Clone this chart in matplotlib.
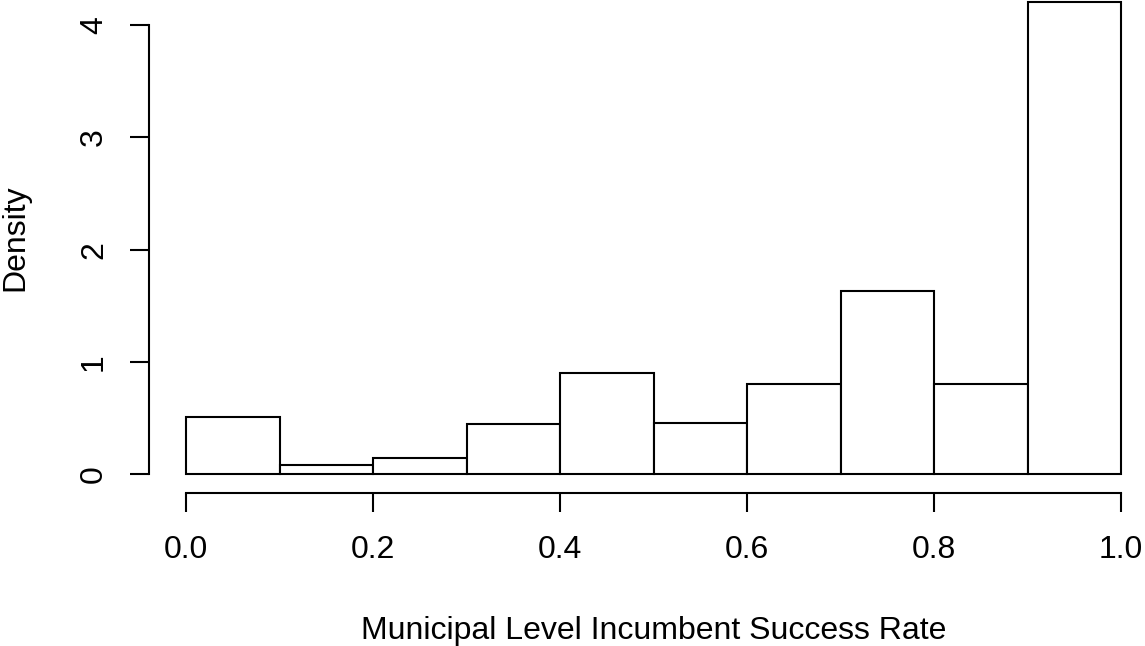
import matplotlib
matplotlib.use("Agg")
import matplotlib.pyplot as plt
import numpy as np

plt.rcParams['font.family'] = ['Liberation Sans', 'DejaVu Sans']

breaks = [0.0, 0.1, 0.2, 0.3, 0.4, 0.5, 0.6, 0.7, 0.8, 0.9, 1.0]
density = [0.51, 0.08, 0.14, 0.45, 0.90, 0.455, 0.805, 1.635, 0.80, 4.21]
x_ticks = [0.0, 0.2, 0.4, 0.6, 0.8, 1.0]
x_tick_labels = ["0.0", "0.2", "0.4", "0.6", "0.8", "1.0"]
y_ticks = [0, 1, 2, 3, 4]
x_label = "Municipal Level Incumbent Success Rate"
y_label = "Density"

W, H = 1145, 646
DPI = 100
FS = 23
fig = plt.figure(figsize=(W / DPI, H / DPI), dpi=DPI)
fig.patch.set_facecolor("white")

# plot region in pixels (R-like, 4% extension)
left_px, right_px = 148.6, 1158.4
bottom_px, top_px = 493.0, -17.2
ax = fig.add_axes([left_px / W, (H - bottom_px) / H,
                   (right_px - left_px) / W, (bottom_px - top_px) / H])
ax.set_facecolor("none")

b = np.array(breaks)
ax.bar(b[:-1], density, width=np.diff(b), align="edge",
       facecolor="white", edgecolor="black", linewidth=1.5, clip_on=False)

ax.set_xlim(-0.04, 1.04)
ymax = max(density)
ax.set_ylim(-0.04 * ymax, 1.04 * ymax)

for s in ["top", "right"]:
    ax.spines[s].set_visible(False)
ax.spines["bottom"].set_bounds(0, 1)
ax.spines["left"].set_bounds(0, 4)
for s in ["bottom", "left"]:
    ax.spines[s].set_linewidth(1.5)

ax.set_xticks(x_ticks)
ax.set_xticklabels(x_tick_labels)
ax.set_yticks(y_ticks)
ax.set_yticklabels([str(v) for v in y_ticks])
ax.tick_params(axis="x", length=13.5, width=1.5, pad=17.0, labelsize=FS)
ax.tick_params(axis="y", length=13.5, width=1.5, pad=15.0, labelsize=FS,
               labelrotation=90)
for lbl in ax.get_yticklabels():
    lbl.set_verticalalignment("center")

fig.text((left_px + right_px) / 2 / W, (H - 639) / H, x_label,
         ha="center", va="baseline", fontsize=FS)
fig.text(0.5 / W, (H - (bottom_px + top_px) / 2) / H, y_label,
         ha="left", va="center", rotation=90, fontsize=FS)

fig.savefig("out.png", dpi=DPI, facecolor="white")
